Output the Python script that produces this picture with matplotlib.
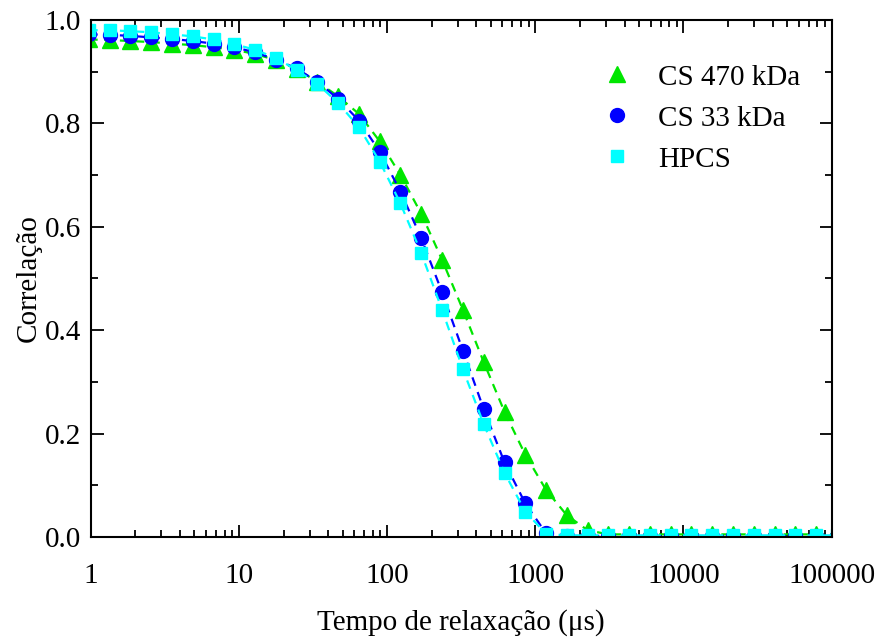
import matplotlib
matplotlib.use('Agg')
import matplotlib.pyplot as plt
from matplotlib.ticker import FixedLocator, FixedFormatter, LogLocator, MultipleLocator, NullFormatter

plt.rcParams['font.family'] = ['Liberation Serif', 'DejaVu Serif']

# tempos de relaxação (us)
tau = [0.97, 1.34, 1.85, 2.56, 3.53, 4.88, 6.74, 9.3, 12.9, 17.8,
       24.5, 33.9, 46.8, 64.6, 89.2, 123, 170, 235, 325, 449,
       620, 856, 1182, 1632, 2254, 3113, 4300, 5938, 8200, 11325,
       15640, 21600, 29830, 41200, 56900, 78580, 108500]

cs470 = [0.962, 0.961, 0.959, 0.957, 0.954, 0.951, 0.947, 0.942, 0.934, 0.922,
         0.905, 0.880, 0.852, 0.818, 0.765, 0.700, 0.625, 0.536, 0.439, 0.338,
         0.242, 0.159, 0.091, 0.042, 0.013, 0.005, 0.005, 0.005, 0.005, 0.005,
         0.005, 0.005, 0.005, 0.005, 0.005, 0.005, 0.005]

cs33 = [0.972, 0.971, 0.969, 0.966, 0.963, 0.959, 0.954, 0.947, 0.937, 0.923,
        0.906, 0.880, 0.847, 0.805, 0.745, 0.668, 0.578, 0.473, 0.360, 0.247,
        0.144, 0.065, 0.007, 0.002, 0.002, 0.002, 0.002, 0.002, 0.002, 0.002,
        0.002, 0.002, 0.002, 0.002, 0.002, 0.002, 0.002]

hpcs = [0.980, 0.980, 0.978, 0.976, 0.972, 0.968, 0.962, 0.953, 0.942, 0.926,
        0.903, 0.876, 0.839, 0.792, 0.726, 0.645, 0.549, 0.439, 0.324, 0.218,
        0.124, 0.049, 0.006, 0.003, 0.003, 0.003, 0.003, 0.003, 0.003, 0.003,
        0.003, 0.003, 0.003, 0.003, 0.003, 0.003, 0.003]

xticks = [1, 10, 100, 1000, 10000, 100000]
xlabels = ['1', '10', '100', '1000', '10000', '100000']

fig = plt.figure(figsize=(8.81, 6.4), dpi=100)
ax = fig.add_axes([0.103, 0.161, 0.841, 0.808])

series = [
    (cs470, '#00E600', '^', 11, 'CS 470 kDa'),
    (cs33, '#0000FF', 'o', 10, 'CS 33 kDa'),
    (hpcs, '#00FFFF', 's', 9, 'HPCS'),
]
for y, c, m, ms, lab in series:
    ax.plot(tau, y, ls='--', color=c, lw=1.6, dashes=(4, 3))
    ax.plot(tau, y, ls='none', marker=m, ms=ms, color=c, mec=c, label=lab)

ax.set_xscale('log')
ax.set_xlim(1, 100000)
ax.set_ylim(0, 1.0)
ax.xaxis.set_major_locator(FixedLocator(xticks))
ax.xaxis.set_major_formatter(FixedFormatter(xlabels))
ax.xaxis.set_minor_locator(LogLocator(base=10, subs=range(2, 10)))
ax.xaxis.set_minor_formatter(NullFormatter())
ax.yaxis.set_major_locator(MultipleLocator(0.2))
ax.yaxis.set_minor_locator(MultipleLocator(0.1))
ax.yaxis.set_major_formatter(matplotlib.ticker.FormatStrFormatter('%.1f'))

ax.tick_params(which='both', direction='in', top=True, right=True, width=1.3, labelsize=21)
ax.tick_params(which='major', length=9)
ax.tick_params(which='minor', length=5)
ax.tick_params(axis='x', pad=19)
ax.tick_params(axis='y', pad=7)
for s in ax.spines.values():
    s.set_linewidth(1.5)

ax.set_xlabel('Tempo de relaxação (μs)', fontsize=21, labelpad=14)
ax.set_ylabel('Correlação', fontsize=21, labelpad=2)

ax.legend(loc='upper left', frameon=False, fontsize=21, handletextpad=0.4,
          borderaxespad=0.0, labelspacing=0.5, bbox_to_anchor=(0.655, 0.937))

fig.savefig('out.png', dpi=100)
